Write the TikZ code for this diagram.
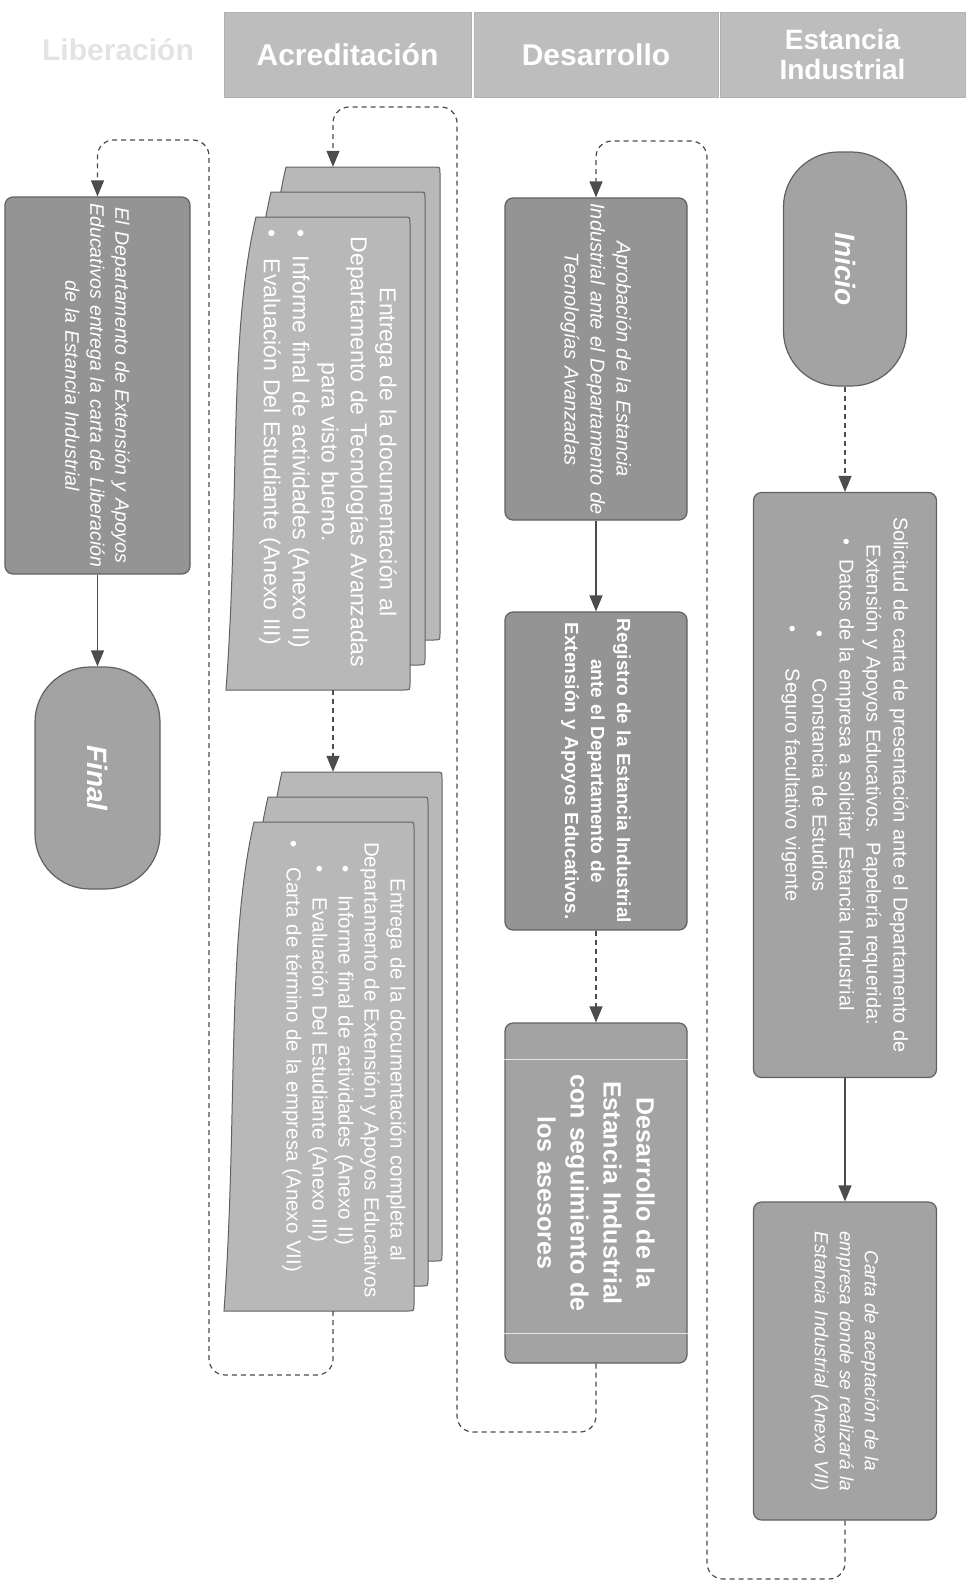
\documentclass[tikz,border=0pt]{standalone}
\usepackage{fontspec}
\setmainfont{Liberation Sans}
\usetikzlibrary{arrows.meta, calc}

\definecolor{hdrfill}{gray}{0.74}
\definecolor{boxfill}{gray}{0.64}
\definecolor{darkfill}{gray}{0.58}
\definecolor{sheetfill}{gray}{0.72}
\definecolor{edgegray}{gray}{0.38}
\definecolor{linegray}{gray}{0.30}

\newcommand{\fsz}[2]{\fontsize{#1}{#2}\selectfont}
% centred line with a bullet set in at the start
\newcommand{\bline}[2][0pt]{\noindent\hbox to \linewidth{\rlap{\hspace*{#1}\textbullet}\hfil #2\hfil}}
% one sheet of a document stack: left, top, right, bottom
\newcommand{\docsheet}[4]{%
  \filldraw[sheet] ({#1+30},#2) -- ({#3-6},#2) .. controls (#3,#2) .. (#3,{#2+6})
    -- (#3,{#4-6}) .. controls (#3,#4) .. ({#3-6},#4) -- (#1,#4)
    .. controls ({#1+14},{#4-0.4*(#4-#2)}) and ({#1+2},{#2+0.25*(#4-#2)}) .. cycle;}

\begin{document}
\begin{tikzpicture}[x=1pt, y=-1pt,
    >={Triangle[length=16pt, width=13pt]},
    lanehead/.style={rectangle, draw=gray!60, fill=hdrfill, text=white, font=\bfseries\fsz{30}{30}, align=center, minimum height=85pt},
    proc/.style={rectangle, rotate=-90, draw=edgegray, line width=1.2pt, fill=boxfill, rounded corners=8pt, text=white, align=center, inner sep=3pt},
    term/.style={proc, rounded corners=55pt, font=\bfseries\itshape\fsz{28}{30}},
    stack/.style={rectangle, rotate=-90, inner sep=0pt},
    doctext/.style={rotate=-90, text=white, align=center, inner sep=0pt},
    sheet/.style={draw=edgegray, line width=1pt, fill=sheetfill},
    flow/.style={->, draw=linegray, line width=1.2pt},
    dflow/.style={flow, dash pattern=on 5pt off 4pt, rounded corners=16pt}
]
\useasboundingbox (0,0) rectangle (971,1585);
\fill[white] (0,0) rectangle (971,1585);

% lane headers
\node[text=gray!22, font=\bfseries\fsz{30}{30}] (hdrL) at (118,50) {Liberación};
\node[lanehead, minimum width=247pt] (hdrA) at (347.5,54.5) {Acreditación};
\node[lanehead, minimum width=244pt] (hdrB) at (596,54.5) {Desarrollo};
\node[lanehead, minimum width=245pt, font=\bfseries\fsz{28}{30}] (hdrC) at (842.5,54.5) {Estancia\\Industrial};

% Estancia Industrial
\node[term, minimum width=234pt, minimum height=123pt] (inicio) at (845,269) {Inicio};
\node[proc, minimum width=585pt, minimum height=183pt, text width=570pt, font=\fsz{20}{27}] (solicitud) at (845,785)
  {Solicitud de carta de presentación ante el Departamento de\\
   Extensión y Apoyos Educativos. Papelería requerida:\\
   \bline[38pt]{Datos de la empresa a solicitar Estancia Industrial}\\
   \bline[130pt]{Constancia de Estudios}\\
   \bline[125pt]{Seguro facultativo vigente}};
\node[proc, minimum width=318pt, minimum height=183pt, text width=300pt, font=\itshape\fsz{19}{25}] (carta) at (845,1361)
  {Carta de aceptación de la\\ empresa donde se realizará la\\ Estancia Industrial (Anexo VII)};

% Desarrollo
\node[proc, fill=darkfill, minimum width=322pt, minimum height=182pt, text width=312pt, font=\itshape\fsz{20}{26}] (aprob) at (596,359)
  {Aprobación de la Estancia\\ Industrial ante el Departamento de\\ Tecnologías Avanzadas};
\node[proc, fill=darkfill, minimum width=318pt, minimum height=182pt, text width=310pt, font=\bfseries\fsz{19}{26}] (registro) at (596,771)
  {Registro de la Estancia Industrial\\ ante el Departamento de\\ Extensión y Apoyos Educativos.};
\node[proc, minimum width=340pt, minimum height=182pt, text width=320pt, font=\bfseries\fsz{25}{33}] (desarrollo) at (596,1193)
  {Desarrollo de la\\ Estancia Industrial\\ con seguimiento de\\ los asesores};
\draw[white!80!gray, line width=1.5pt] ($(desarrollo.south west)+(0,37)$) -- ($(desarrollo.north west)+(0,37)$);
\draw[white!80!gray, line width=1.5pt] ($(desarrollo.south east)+(0,-30)$) -- ($(desarrollo.north east)+(0,-30)$);

% Acreditacion
\docsheet{256}{167}{440}{640}
\docsheet{241}{192}{425}{665}
\docsheet{226}{217}{410}{690}
\node[stack, minimum width=523pt, minimum height=214pt] (docA) at (333,428.5) {};
\node[doctext, text width=445pt, font=\fsz{23}{29}] (docAtxt) at (328,452)
  {Entrega de la documentación al\\ Departamento de Tecnologías Avanzadas\\ para visto bueno.\\
   \bline{Informe final de actividades (Anexo II)}\\ \bline{Evaluación Del Estudiante (Anexo III)}};

\docsheet{252}{772}{442}{1261}
\docsheet{238}{797}{428}{1286}
\docsheet{224}{822}{414}{1311}
\node[stack, minimum width=539pt, minimum height=218pt] (docB) at (333,1041.5) {};
\node[doctext, text width=460pt, font=\fsz{20.5}{26}] (docBtxt) at (344,1070)
  {Entrega de la documentación completa al\\ Departamento de Extensión y Apoyos Educativos\\
   \bline[25pt]{Informe final de actividades (Anexo II)}\\
   \bline[25pt]{Evaluación Del Estudiante (Anexo III)}\\
   \bline{Carta de término de la empresa (Anexo VII)}};

% Liberacion
\node[proc, fill=darkfill, minimum width=377pt, minimum height=185pt, text width=365pt, font=\itshape\fsz{19.5}{25}] (depto) at (97.5,385.5)
  {El Departamento de Extensión y Apoyos\\ Educativos entrega la carta de Liberación\\ de la Estancia Industrial};
\node[term, minimum width=222pt, minimum height=125pt] (final) at (97.5,778) {Final};

% connectors
\coordinate (bendA1) at (707,1579);
\coordinate (bendA2) at (707,141);
\coordinate (bendB1) at (457,1432);
\coordinate (bendB2) at (457,107);
\coordinate (bendC1) at (209,1375);
\coordinate (bendC2) at (209,140);

\draw[dflow] (inicio.east) -- (solicitud.west);
\draw[flow] (solicitud.east) -- (carta.west);
\draw[dflow] (carta.east) |- (bendA1) -- (bendA2) -| (aprob.west);
\draw[flow] (aprob.east) -- (registro.west);
\draw[dflow] (registro.east) -- (desarrollo.west);
\draw[dflow] (desarrollo.east) |- (bendB1) -- (bendB2) -| (docA.west);
\draw[dflow] (docA.east) -- (docB.west);
\draw[dflow] (docB.east) |- (bendC1) -- (bendC2) -| (depto.west);
\draw[flow] (depto.east) -- (final.west);
\end{tikzpicture}
\end{document}
